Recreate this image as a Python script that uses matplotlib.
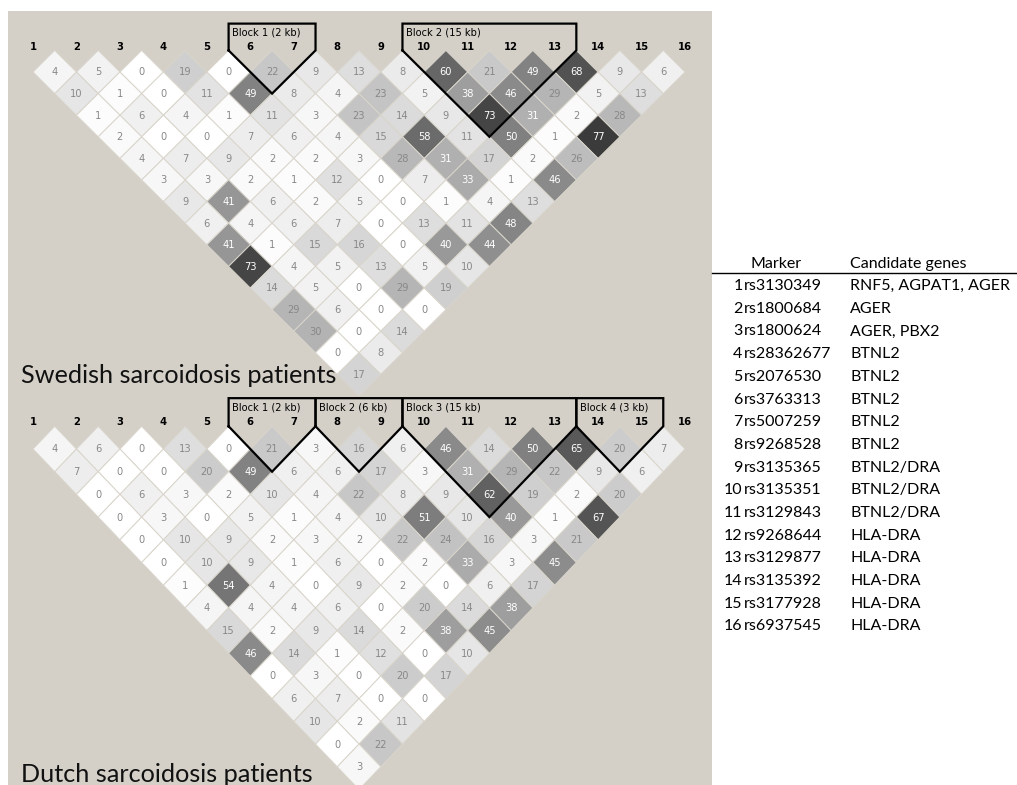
import matplotlib
matplotlib.use("Agg")
import matplotlib.pyplot as plt
from matplotlib.patches import Polygon, Rectangle

W, H, DPI = 1017, 785, 100

# Marker numbering, SNP identifiers and the genes they tag
MARKERS = [str(m) for m in range(1, 17)]
SNP_IDS = ["rs3130349", "rs1800684", "rs1800624", "rs28362677", "rs2076530",
           "rs3763313", "rs5007259", "rs9268528", "rs3135365", "rs3135351",
           "rs3129843", "rs9268644", "rs3129877", "rs3135392", "rs3177928",
           "rs6937545"]
GENES = ["RNF5, AGPAT1, AGER", "AGER", "AGER, PBX2", "BTNL2", "BTNL2", "BTNL2",
         "BTNL2", "BTNL2", "BTNL2/DRA", "BTNL2/DRA", "BTNL2/DRA", "HLA-DRA",
         "HLA-DRA", "HLA-DRA", "HLA-DRA", "HLA-DRA"]

# Pairwise r2 (x100); row k holds the pairs (i, i+k) for i = 1, 2, ...
SWEDISH_R2 = [
    [4, 5, 0, 19, 0, 22, 9, 13, 8, 60, 21, 49, 68, 9, 6],
    [10, 1, 0, 11, 49, 8, 4, 23, 5, 38, 46, 29, 5, 13],
    [1, 6, 4, 1, 11, 3, 23, 14, 9, 73, 31, 2, 28],
    [2, 0, 0, 7, 6, 4, 15, 58, 11, 50, 1, 77],
    [4, 7, 9, 2, 2, 3, 28, 31, 17, 2, 26],
    [3, 3, 2, 1, 12, 0, 7, 33, 1, 46],
    [9, 41, 6, 2, 5, 0, 1, 4, 13],
    [6, 4, 6, 7, 0, 13, 11, 48],
    [41, 1, 15, 16, 0, 40, 44],
    [73, 4, 5, 13, 5, 10],
    [14, 5, 0, 29, 19],
    [29, 6, 0, 0],
    [30, 0, 14],
    [0, 8],
    [17],
]
DUTCH_R2 = [
    [4, 6, 0, 13, 0, 21, 3, 16, 6, 46, 14, 50, 65, 20, 7],
    [7, 0, 0, 20, 49, 6, 6, 17, 3, 31, 29, 22, 9, 6],
    [0, 6, 3, 2, 10, 4, 22, 8, 9, 62, 19, 2, 20],
    [0, 3, 0, 5, 1, 4, 10, 51, 10, 40, 1, 67],
    [0, 10, 9, 2, 3, 2, 22, 24, 16, 3, 21],
    [0, 10, 9, 1, 6, 0, 2, 33, 3, 45],
    [1, 54, 4, 0, 9, 2, 0, 6, 17],
    [4, 4, 4, 6, 0, 20, 14, 38],
    [15, 2, 9, 14, 2, 38, 45],
    [46, 14, 1, 12, 0, 10],
    [0, 3, 0, 20, 17],
    [6, 7, 0, 0],
    [10, 2, 11],
    [0, 22],
    [3],
]

# Haplotype blocks: first marker, last marker, label
SWEDISH_BLOCKS = [(6, 7, "Block 1 (2 kb)"), (10, 13, "Block 2 (15 kb)")]
DUTCH_BLOCKS = [(6, 7, "Block 1 (2 kb)"), (8, 9, "Block 2 (6 kb)"),
                (10, 13, "Block 3 (15 kb)"), (14, 15, "Block 4 (3 kb)")]

PANEL_TITLES = ["Swedish sarcoidosis patients", "Dutch sarcoidosis patients"]

BG = "#d4d0c8"
EDGE = "#d9d5cb"
TXT_GRAY = "#888888"
CELL_FONT = "DejaVu Sans"
TEXT_FONT = "Lato"

fig = plt.figure(figsize=(W / DPI, H / DPI), dpi=DPI)
fig.patch.set_facecolor("white")
renderer = fig.canvas.get_renderer()

# Full-figure axes in pixel units for background, titles and the table
base = fig.add_axes([0, 0, 1, 1])
base.set_xlim(0, W)
base.set_ylim(H, 0)
base.axis("off")
base.add_patch(Rectangle((8, 11), 712 - 8, H - 11, facecolor=BG, edgecolor="none", zorder=0))


def fit_size(text, target_px, family, size=20, **kw):
    t = fig.text(0, 0, text, fontsize=size, family=family, **kw)
    w = t.get_window_extent(renderer).width
    t.remove()
    return size * target_px / w


# Panel geometry (pixels): marker 1 x, marker spacing, y of diamond tips, px per r-unit in y
X1, DX = 33.0, 652.0 / 15
PANELS = [
    dict(r2=SWEDISH_R2, blocks=SWEDISH_BLOCKS, y0=50.4, sy=43.2),
    dict(r2=DUTCH_R2, blocks=DUTCH_BLOCKS, y0=426.3, sy=45.4),
]
XLIM = (0.5, 16.5)
YLIM = (-0.8, 8.0)


def panel_axes(y0, sy):
    left = X1 + (XLIM[0] - 1) * DX
    right = X1 + (XLIM[1] - 1) * DX
    top = y0 + YLIM[0] * sy
    bottom = y0 + YLIM[1] * sy
    ax = fig.add_axes([left / W, 1 - bottom / H, (right - left) / W, (bottom - top) / H])
    ax.set_xlim(*XLIM)
    ax.set_ylim(YLIM[1], YLIM[0])
    ax.axis("off")
    ax.patch.set_alpha(0)
    return ax


def draw_panel(ax, r2_rows, blocks):
    for k, row in enumerate(r2_rows, start=1):
        for i, val in enumerate(row, start=1):
            j = i + k
            cx, cy = (i + j) / 2, k / 2
            g = 1 - val / 100
            ax.add_patch(Polygon([(cx - 0.5, cy), (cx, cy - 0.5), (cx + 0.5, cy), (cx, cy + 0.5)],
                                 closed=True, facecolor=(g, g, g), edgecolor=EDGE,
                                 lw=0.7, zorder=1, clip_on=False))
            ax.text(cx, cy + 0.01, str(val), ha="center", va="center", fontsize=7.1,
                    family=CELL_FONT, color="white" if val > 30 else TXT_GRAY,
                    zorder=2, clip_on=False)
    for m, lab in enumerate(MARKERS, start=1):
        ax.text(m, -0.09, lab, ha="center", va="center", fontsize=7.2,
                fontweight="bold", family=CELL_FONT, color="black", zorder=3)
    for a, b, name in blocks:
        L, R = a - 0.5, b + 0.5
        top = -0.62
        ax.plot([L, L, R, R, (L + R) / 2, L], [0, top, top, 0, (R - L) / 2, 0],
                color="black", lw=1.6, solid_joinstyle="miter", zorder=4, clip_on=False)
        ax.text(L + 0.075, -0.42, name, ha="left", va="center", fontsize=7.1,
                family=CELL_FONT, color="black", zorder=4)


for p in PANELS:
    ax = panel_axes(p["y0"], p["sy"])
    draw_panel(ax, p["r2"], p["blocks"])

# Panel titles
title_size = fit_size(PANEL_TITLES[0], 316, TEXT_FONT)
base.text(21, 382.7, PANEL_TITLES[0], fontsize=title_size, family=TEXT_FONT,
          ha="left", va="baseline", color="#111111", zorder=5)
base.text(21, 781.7, PANEL_TITLES[1], fontsize=title_size, family=TEXT_FONT,
          ha="left", va="baseline", color="#111111", zorder=5)

# Marker table
tab_size = fit_size(GENES[0], 160, TEXT_FONT)
HEAD_Y, ROW0_Y, ROW_DY = 264.0, 286.0, 22.7
base.text(751, HEAD_Y, "Marker", fontsize=tab_size, family=TEXT_FONT, ha="left", va="center")
base.text(850, HEAD_Y, "Candidate genes", fontsize=tab_size, family=TEXT_FONT, ha="left", va="center")
base.plot([712, 1016], [272.7, 272.7], color="black", lw=1.0)
for n, (m, snp, gene) in enumerate(zip(MARKERS, SNP_IDS, GENES)):
    y = ROW0_Y + n * ROW_DY
    base.text(742.5, y, m, fontsize=tab_size, family=TEXT_FONT, ha="right", va="center")
    base.text(744, y, snp, fontsize=tab_size, family=TEXT_FONT, ha="left", va="center")
    base.text(850, y, gene, fontsize=tab_size, family=TEXT_FONT, ha="left", va="center")

fig.savefig("out.png", dpi=DPI, facecolor="white")
